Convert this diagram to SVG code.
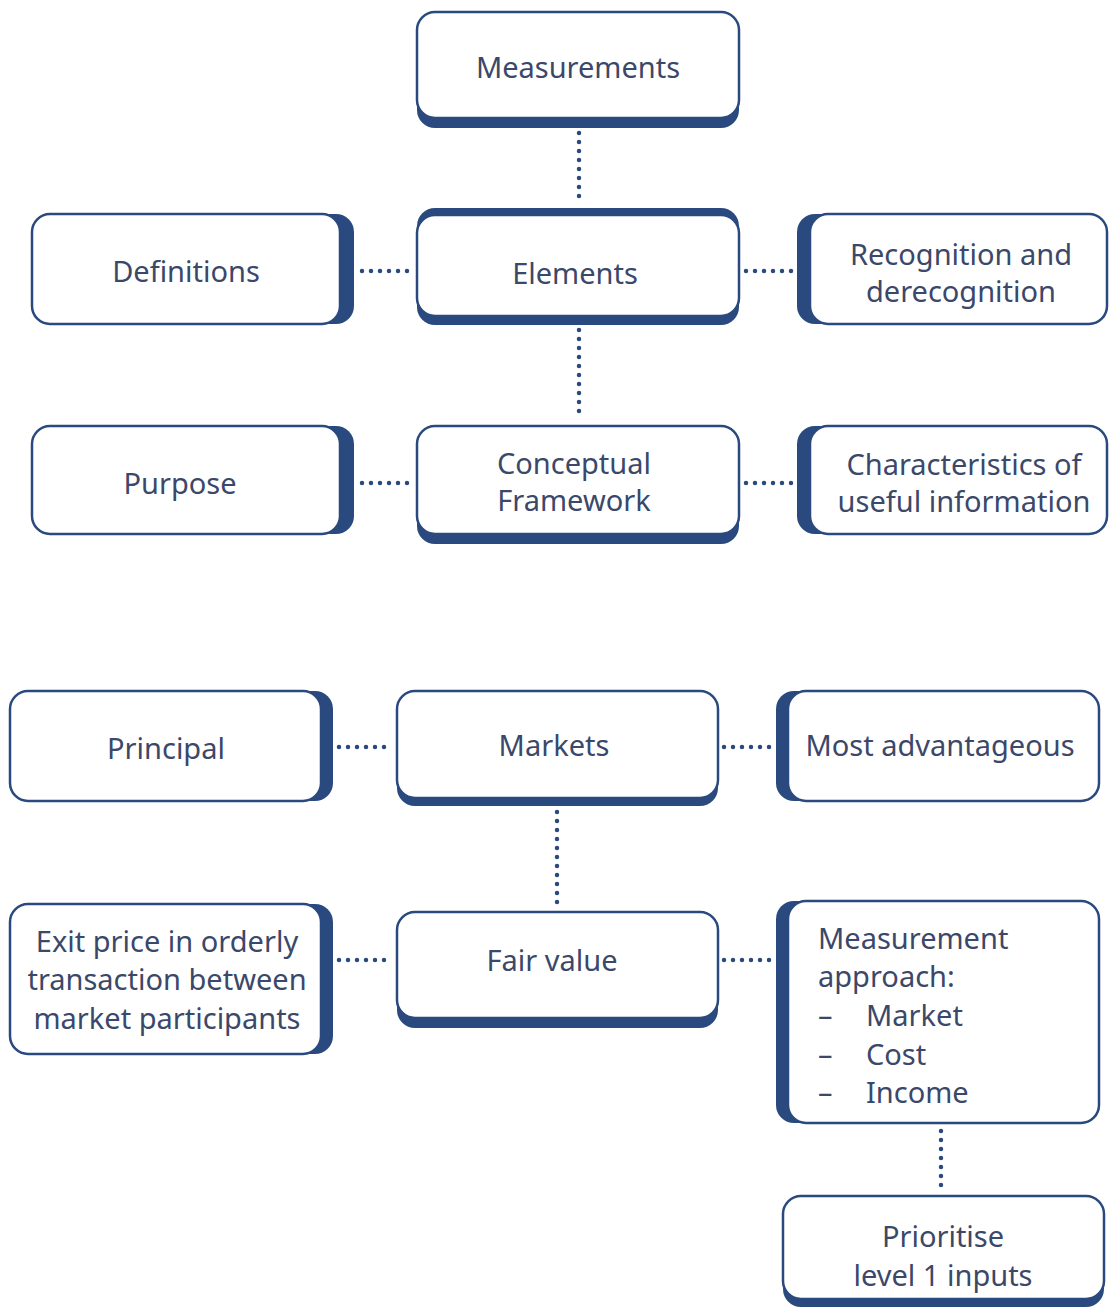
<svg xmlns="http://www.w3.org/2000/svg" width="1110" height="1308" viewBox="0 0 1110 1308">
<style>
.sh{fill:#2a4a7f}
.bx{fill:#ffffff;stroke:#2a4a7f;stroke-width:2.5}
.t{font-family:"Noto Sans","Open Sans",sans-serif;font-size:29px;fill:#3b4869;text-anchor:middle}
.tl{font-family:"Noto Sans","Open Sans",sans-serif;font-size:29px;fill:#3b4869}
.dot{stroke:#2a4a7f;stroke-width:4.5;stroke-linecap:round;stroke-dasharray:0 9;fill:none}
</style>
<rect width="1110" height="1308" fill="#ffffff"/>
<g id="connectors">
<line class="dot" x1="579" y1="133" x2="579" y2="205"/>
<line class="dot" x1="579" y1="330" x2="579" y2="420"/>
<line class="dot" x1="362" y1="271" x2="412" y2="271"/>
<line class="dot" x1="746" y1="271" x2="792" y2="271"/>
<line class="dot" x1="362" y1="483" x2="412" y2="483"/>
<line class="dot" x1="746" y1="483" x2="792" y2="483"/>
<line class="dot" x1="339" y1="747" x2="392" y2="747"/>
<line class="dot" x1="724" y1="747" x2="770" y2="747"/>
<line class="dot" x1="557" y1="812" x2="557" y2="906"/>
<line class="dot" x1="339" y1="960" x2="392" y2="960"/>
<line class="dot" x1="724" y1="960" x2="770" y2="960"/>
<line class="dot" x1="941" y1="1131" x2="941" y2="1192"/>
</g>
<g id="measurements">
<rect class="sh" x="417" y="22" width="322" height="106" rx="18"/>
<rect class="bx" x="417" y="12" width="322" height="106" rx="18"/>
<text class="t" x="578" y="78">Measurements</text>
</g>
<g id="elements">
<rect class="sh" x="417" y="208" width="322" height="117" rx="18"/>
<rect class="bx" x="417" y="215" width="322" height="101" rx="18"/>
<text class="t" x="575" y="284">Elements</text>
</g>
<g id="definitions">
<rect class="sh" x="46" y="214" width="308" height="110" rx="18"/>
<rect class="bx" x="32" y="214" width="308" height="110" rx="18"/>
<text class="t" x="186" y="282">Definitions</text>
</g>
<g id="recognition">
<rect class="sh" x="797" y="214" width="297" height="110" rx="18"/>
<rect class="bx" x="810" y="214" width="297" height="110" rx="18"/>
<text class="t" x="961" y="265">Recognition and</text>
<text class="t" x="961" y="302">derecognition</text>
</g>
<g id="conceptual-framework">
<rect class="sh" x="417" y="436" width="322" height="108" rx="18"/>
<rect class="bx" x="417" y="426" width="322" height="108" rx="18"/>
<text class="t" x="574" y="474">Conceptual</text>
<text class="t" x="574" y="511">Framework</text>
</g>
<g id="purpose">
<rect class="sh" x="46" y="426" width="308" height="108" rx="18"/>
<rect class="bx" x="32" y="426" width="308" height="108" rx="18"/>
<text class="t" x="180" y="494">Purpose</text>
</g>
<g id="characteristics">
<rect class="sh" x="797" y="426" width="297" height="108" rx="18"/>
<rect class="bx" x="810" y="426" width="297" height="108" rx="18"/>
<text class="t" x="964" y="475">Characteristics of</text>
<text class="t" x="964" y="512">useful information</text>
</g>
<g id="principal">
<rect class="sh" x="22" y="691" width="311" height="110" rx="18"/>
<rect class="bx" x="10" y="691" width="311" height="110" rx="18"/>
<text class="t" x="166" y="759">Principal</text>
</g>
<g id="markets">
<rect class="sh" x="397" y="699" width="321" height="107" rx="18"/>
<rect class="bx" x="397" y="691" width="321" height="107" rx="18"/>
<text class="t" x="554" y="756">Markets</text>
</g>
<g id="most-advantageous">
<rect class="sh" x="776" y="691" width="311" height="110" rx="18"/>
<rect class="bx" x="788" y="691" width="311" height="110" rx="18"/>
<text class="t" x="940" y="756">Most advantageous</text>
</g>
<g id="exit-price">
<rect class="sh" x="22" y="904" width="311" height="150" rx="18"/>
<rect class="bx" x="10" y="904" width="311" height="150" rx="18"/>
<text class="t" x="167" y="952">Exit price in orderly</text>
<text class="t" x="167" y="990">transaction between</text>
<text class="t" x="167" y="1029">market participants</text>
</g>
<g id="fair-value">
<rect class="sh" x="397" y="922" width="321" height="106" rx="18"/>
<rect class="bx" x="397" y="912" width="321" height="106" rx="18"/>
<text class="t" x="552" y="971">Fair value</text>
</g>
<g id="measurement-approach">
<rect class="sh" x="776" y="901" width="311" height="222" rx="18"/>
<rect class="bx" x="788" y="901" width="311" height="222" rx="18"/>
<text class="tl" x="818" y="949">Measurement</text>
<text class="tl" x="818" y="987">approach:</text>
<text class="tl" x="818" y="1026">–</text>
<text class="tl" x="866" y="1026">Market</text>
<text class="tl" x="818" y="1065">–</text>
<text class="tl" x="866" y="1065">Cost</text>
<text class="tl" x="818" y="1103">–</text>
<text class="tl" x="866" y="1103">Income</text>
</g>
<g id="prioritise">
<rect class="sh" x="783" y="1204" width="321" height="103" rx="18"/>
<rect class="bx" x="783" y="1196" width="321" height="103" rx="18"/>
<text class="t" x="943" y="1247">Prioritise</text>
<text class="t" x="943" y="1286">level 1 inputs</text>
</g>
</svg>
